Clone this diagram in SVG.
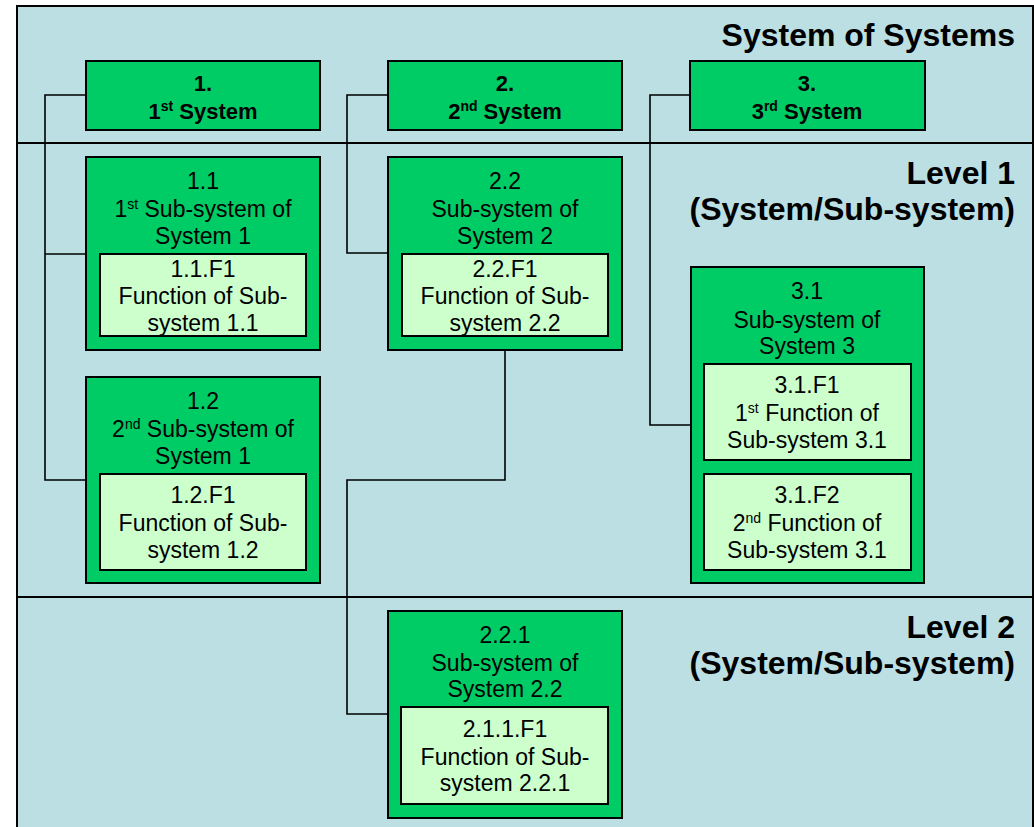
<svg xmlns="http://www.w3.org/2000/svg" width="1034" height="827" viewBox="0 0 1034 827">
<style>
.bg{fill:#BBDFE3;stroke:#000;stroke-width:2}
.band{stroke:#000;stroke-width:2;fill:none}
.g{fill:#00CC66;stroke:#000;stroke-width:2}
.lg{fill:#CCFFCC;stroke:#000;stroke-width:2}
.c{fill:none;stroke:#000;stroke-width:1.6}
text{font-family:"Liberation Sans",Arial,sans-serif;fill:#000}
.t{font-size:23px;text-anchor:middle}
.h{font-size:22px;font-weight:bold;text-anchor:middle}
.lab{font-size:32px;font-weight:bold;text-anchor:end}
.sup{font-size:14px}
</style>
<rect class="bg" x="17" y="6" width="1016" height="830"/>
<line class="band" x1="17" y1="143" x2="1033" y2="143"/>
<line class="band" x1="17" y1="597" x2="1033" y2="597"/>
<g id="labels">
<text class="lab" x="1015" y="46">System of Systems</text>
<text class="lab" x="1015" y="184">Level 1</text>
<text class="lab" x="1015" y="220">(System/Sub-system)</text>
<text class="lab" x="1015" y="638">Level 2</text>
<text class="lab" x="1015" y="674">(System/Sub-system)</text>
</g>
<g id="connectors">
<polyline class="c" points="86,95 45,95 45,480 86,480"/>
<line class="c" x1="45" y1="254" x2="86" y2="254"/>
<polyline class="c" points="388,95 347,95 347,253 388,253"/>
<polyline class="c" points="690,95 650,95 650,425 691,425"/>
<polyline class="c" points="505,350 505,480 347,480 347,714 388,714"/>
</g>
<g id="sys1">
<rect class="g" x="86" y="61" width="234" height="69"/>
<text class="h" x="203" y="91">1.</text>
<text class="h" x="203" y="119">1<tspan class="sup" dy="-8">st</tspan><tspan dy="8"> System</tspan></text>
</g>
<g id="sys2">
<rect class="g" x="388" y="61" width="234" height="69"/>
<text class="h" x="505" y="91">2.</text>
<text class="h" x="505" y="119">2<tspan class="sup" dy="-8">nd</tspan><tspan dy="8"> System</tspan></text>
</g>
<g id="sys3">
<rect class="g" x="690" y="61" width="235" height="69"/>
<text class="h" x="807" y="91">3.</text>
<text class="h" x="807" y="119">3<tspan class="sup" dy="-8">rd</tspan><tspan dy="8"> System</tspan></text>
</g>
<g id="sub1-1">
<rect class="g" x="86" y="157" width="234" height="193"/>
<text class="t" x="203" y="189">1.1</text>
<text class="t" x="203" y="217">1<tspan class="sup" dy="-8">st</tspan><tspan dy="8"> Sub-system of</tspan></text>
<text class="t" x="203" y="244">System 1</text>
</g>
<g id="f1-1-F1">
<rect class="lg" x="100" y="254" width="206" height="82"/>
<text class="t" x="203" y="277">1.1.F1</text>
<text class="t" x="203" y="304">Function of Sub-</text>
<text class="t" x="203" y="331">system 1.1</text>
</g>
<g id="sub1-2">
<rect class="g" x="86" y="377" width="234" height="206"/>
<text class="t" x="203" y="409">1.2</text>
<text class="t" x="203" y="437">2<tspan class="sup" dy="-8">nd</tspan><tspan dy="8"> Sub-system of</tspan></text>
<text class="t" x="203" y="464">System 1</text>
</g>
<g id="f1-2-F1">
<rect class="lg" x="100" y="474" width="206" height="96"/>
<text class="t" x="203" y="503">1.2.F1</text>
<text class="t" x="203" y="531">Function of Sub-</text>
<text class="t" x="203" y="558">system 1.2</text>
</g>
<g id="sub2-2">
<rect class="g" x="388" y="157" width="234" height="193"/>
<text class="t" x="505" y="189">2.2</text>
<text class="t" x="505" y="217">Sub-system of</text>
<text class="t" x="505" y="244">System 2</text>
</g>
<g id="f2-2-F1">
<rect class="lg" x="402" y="254" width="206" height="82"/>
<text class="t" x="505" y="277">2.2.F1</text>
<text class="t" x="505" y="304">Function of Sub-</text>
<text class="t" x="505" y="331">system 2.2</text>
</g>
<g id="sub3-1">
<rect class="g" x="691" y="267" width="233" height="316"/>
<text class="t" x="807" y="299">3.1</text>
<text class="t" x="807" y="328">Sub-system of</text>
<text class="t" x="807" y="354">System 3</text>
</g>
<g id="f3-1-F1">
<rect class="lg" x="704" y="364" width="207" height="96"/>
<text class="t" x="807" y="393">3.1.F1</text>
<text class="t" x="807" y="421">1<tspan class="sup" dy="-8">st</tspan><tspan dy="8"> Function of</tspan></text>
<text class="t" x="807" y="448">Sub-system 3.1</text>
</g>
<g id="f3-1-F2">
<rect class="lg" x="704" y="474" width="207" height="96"/>
<text class="t" x="807" y="503">3.1.F2</text>
<text class="t" x="807" y="531">2<tspan class="sup" dy="-8">nd</tspan><tspan dy="8"> Function of</tspan></text>
<text class="t" x="807" y="558">Sub-system 3.1</text>
</g>
<g id="sub2-2-1">
<rect class="g" x="388" y="611" width="234" height="207"/>
<text class="t" x="505" y="643">2.2.1</text>
<text class="t" x="505" y="671">Sub-system of</text>
<text class="t" x="505" y="697">System 2.2</text>
</g>
<g id="f2-1-1-F1">
<rect class="lg" x="401" y="707" width="207" height="97"/>
<text class="t" x="505" y="737">2.1.1.F1</text>
<text class="t" x="505" y="765">Function of Sub-</text>
<text class="t" x="505" y="791">system 2.2.1</text>
</g>
</svg>
